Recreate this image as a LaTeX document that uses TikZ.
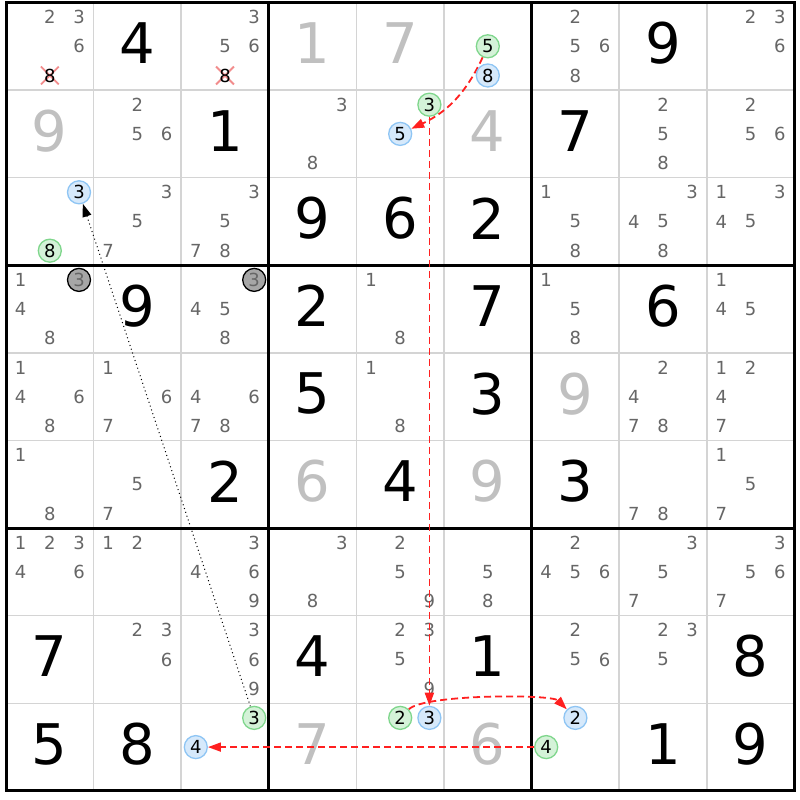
\documentclass[tikz,border=0pt]{standalone}
\usepackage{fontspec}
\setmainfont{DejaVu Sans}
\usetikzlibrary{arrows.meta,shapes.misc}

\definecolor{candGray}{HTML}{666666}
\definecolor{solvedGray}{HTML}{C0C0C0}
\definecolor{lineGray}{HTML}{D4D4D4}
\definecolor{onFill}{HTML}{D4F2D8}
\definecolor{onLine}{HTML}{7FD68C}
\definecolor{offFill}{HTML}{D6E9FB}
\definecolor{offLine}{HTML}{8EC5F4}
\definecolor{pivotFill}{HTML}{A6A6A6}
\definecolor{linkRed}{HTML}{FF2020}
\definecolor{strikeRed}{HTML}{F28C8C}

\pgfdeclarelayer{links}
\pgfdeclarelayer{marks}
\pgfsetlayers{main,links,marks}

\tikzset{
  thinLine/.style={draw=lineGray, line width=1.5pt},
  boxLine/.style={draw=black, line width=3pt, line cap=rect},
  cand/.style={inner sep=0pt, text=candGray, font=\fontsize{18}{18}\selectfont},
  bigDigit/.style={inner sep=0pt, font=\fontsize{56}{56}\selectfont, yshift=3pt},
  solvedDigit/.style={bigDigit, text=solvedGray},
  bubble/.style={circle, inner sep=0pt, minimum size=23pt, line width=1.3pt, font=\fontsize{18}{18}\selectfont},
  onMark/.style={bubble, draw=onLine, fill=onFill},
  offMark/.style={bubble, draw=offLine, fill=offFill},
  pivotMark/.style={bubble, draw=black, fill=pivotFill, text=candGray},
  strong/.style={draw=linkRed, line width=1.8pt, dash pattern=on 7pt off 4pt, -{Triangle[length=13pt,width=9pt]}},
  weak/.style={draw=black, line width=1pt, dash pattern=on 1pt off 3pt, -{Triangle[length=13pt,width=9pt]}},
}

\begin{document}
\begin{tikzpicture}[x=1pt,y=1pt]
% Parameters
\def\cell{87.6};
\def\gridX{6};
\def\gridY{797.5};

\fill[white] (0,0) rectangle (800,800);

% Grid
\foreach \i in {0,...,9}
{
\draw[thinLine] (\gridX+\i*\cell,\gridY) -- ++(0,-9*\cell);
\draw[thinLine] (\gridX,\gridY-\i*\cell) -- ++(9*\cell,0);
}
\foreach \i in {0,3,6,9}
{
\draw[boxLine] (\gridX+\i*\cell,\gridY) -- ++(0,-9*\cell);
\draw[boxLine] (\gridX,\gridY-\i*\cell) -- ++(9*\cell,0);
}

% Solved cells
\foreach \r/\c/\d in {1/2/4, 1/8/9, 2/3/1, 2/7/7, 3/4/9, 3/5/6, 3/6/2, 4/2/9, 4/4/2, 4/6/7, 4/8/6, 5/4/5, 5/6/3, 6/3/2, 6/5/4, 6/7/3, 8/1/7, 8/4/4, 8/6/1, 8/9/8, 9/1/5, 9/2/8, 9/8/1, 9/9/9}
{
\node[bigDigit] (s\r\c) at (\gridX+\c*\cell-0.5*\cell,\gridY-\r*\cell+0.5*\cell) {\d};
}
\foreach \r/\c/\d in {1/4/1, 1/5/7, 2/1/9, 2/6/4, 5/7/9, 6/4/6, 6/6/9, 9/4/7, 9/6/6}
{
\node[solvedDigit] (s\r\c) at (\gridX+\c*\cell-0.5*\cell,\gridY-\r*\cell+0.5*\cell) {\d};
}

% Candidates
\foreach \r/\c/\ds in {1/1/{2,3,6}, 1/3/{3,5,6}, 1/7/{2,5,6,8}, 1/9/{2,3,6},
  2/2/{2,5,6}, 2/4/{3,8}, 2/8/{2,5,8}, 2/9/{2,5,6},
  3/2/{3,5,7}, 3/3/{3,5,7,8}, 3/7/{1,5,8}, 3/8/{3,4,5,8}, 3/9/{1,3,4,5},
  4/1/{1,4,8}, 4/3/{4,5,8}, 4/5/{1,8}, 4/7/{1,5,8}, 4/9/{1,4,5},
  5/1/{1,4,6,8}, 5/2/{1,6,7}, 5/3/{4,6,7,8}, 5/5/{1,8}, 5/8/{2,4,7,8}, 5/9/{1,2,4,7},
  6/1/{1,8}, 6/2/{5,7}, 6/8/{7,8}, 6/9/{1,5,7},
  7/1/{1,2,3,4,6}, 7/2/{1,2}, 7/3/{3,4,6,9}, 7/4/{3,8}, 7/5/{2,5,9}, 7/6/{5,8}, 7/7/{2,4,5,6}, 7/8/{3,5,7}, 7/9/{3,5,6,7},
  8/2/{2,3,6}, 8/3/{3,6,9}, 8/5/{2,3,5,9}, 8/7/{2,5,6}, 8/8/{2,3,5}}
{
\foreach \d in \ds
{
\pgfmathsetmacro\px{\gridX+(\c-1)*\cell+(1+2*mod(\d-1,3))*\cell/6}
\pgfmathsetmacro\py{\gridY-(\r-1)*\cell-(1+2*floor((\d-1)/3))*\cell/6}
\node[cand] (r\r-c\c-\d) at (\px,\py) {\d};
}
}

% Eliminated candidates
\foreach \c in {1,3}
{
\pgfmathsetmacro\px{\gridX+(\c-1)*\cell+3*\cell/6}
\pgfmathsetmacro\py{\gridY-5*\cell/6}
\node[cross out, draw=strikeRed, line width=1.8pt, minimum size=16pt, inner sep=0pt] (x1\c) at (\px,\py) {};
\node[cand, text=black] (r1-c\c-8) at (\px,\py) {8};
}

% Chain marks
\begin{pgfonlayer}{marks}
\foreach \r/\c/\d/\kind in {1/6/5/onMark, 1/6/8/offMark, 2/5/3/onMark, 2/5/5/offMark, 3/1/3/offMark, 3/1/8/onMark, 4/1/3/pivotMark, 4/3/3/pivotMark, 9/3/3/onMark, 9/3/4/offMark, 9/5/2/onMark, 9/5/3/offMark, 9/7/2/offMark, 9/7/4/onMark}
{
\pgfmathsetmacro\px{\gridX+(\c-1)*\cell+(1+2*mod(\d-1,3))*\cell/6}
\pgfmathsetmacro\py{\gridY-(\r-1)*\cell-(1+2*floor((\d-1)/3))*\cell/6}
\node[\kind] (m\r\c\d) at (\px,\py) {\d};
}
\end{pgfonlayer}

% Links
\begin{pgfonlayer}{links}
\draw[strong] (m165) to[bend left=20] (m255);
\draw[strong] (m253) -- (m953);
\draw[strong] (m952) to[out=45, in=135, looseness=0.35] (m972);
\draw[strong] (m974) -- (m934);
\draw[weak] (m933) -- (m313);
\end{pgfonlayer}

\end{tikzpicture}
\end{document}
